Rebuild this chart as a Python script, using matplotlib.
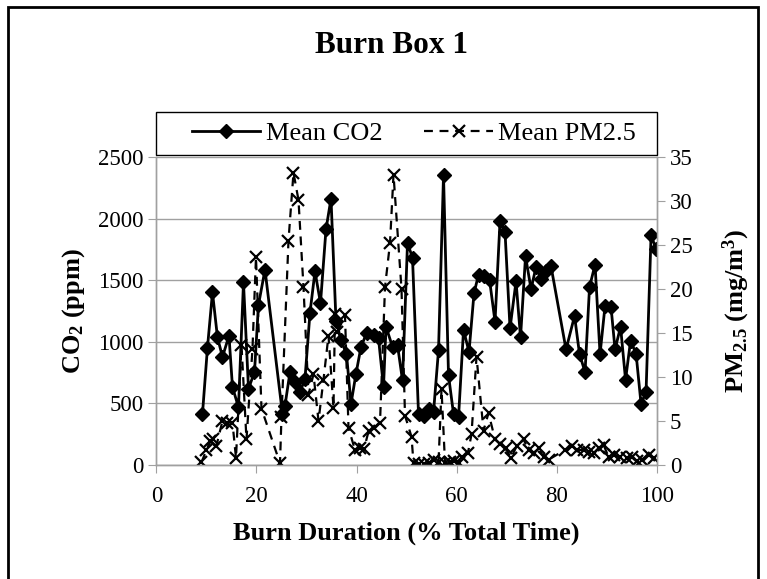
import matplotlib
matplotlib.use('Agg')
import matplotlib.pyplot as plt
from matplotlib.patches import Rectangle

plt.rcParams['font.family'] = ['Liberation Serif', 'DejaVu Serif']
plt.rcParams['mathtext.fontset'] = 'custom'
plt.rcParams['mathtext.rm'] = 'Liberation Serif'
plt.rcParams['mathtext.bf'] = 'Liberation Serif:bold'
plt.rcParams['mathtext.it'] = 'Liberation Serif:italic'

# Mean CO2 (ppm) vs burn duration (% of total time)
co2_time = [9.2, 10.2, 11.2, 12.2, 13.2, 14.5, 15.2, 16.4, 17.4, 18.4, 19.6, 20.4, 21.7,
            25.2, 25.7, 26.7, 27.7, 28.7, 29.7, 30.7, 31.7, 32.8, 33.9, 34.9, 35.9, 36.9,
            38.0, 38.9, 39.9, 40.9, 42.0, 43.4, 44.4, 45.4, 45.9, 47.2, 48.2, 49.2, 50.2,
            51.2, 52.4, 53.4, 54.4, 55.4, 56.4, 57.4, 58.4, 59.4, 60.4, 61.4, 62.5, 63.5,
            64.4, 65.5, 66.6, 67.7, 68.7, 69.7, 70.7, 71.9, 72.8, 73.8, 74.9, 75.9, 76.9,
            77.9, 78.9, 81.9, 83.6, 84.6, 85.7, 86.6, 87.7, 88.7, 89.7, 90.9, 91.7, 92.8,
            93.8, 94.8, 95.9, 96.9, 97.9, 98.9, 99.9]
co2_mean = [414, 953, 1400, 1035, 877, 1048, 632, 468, 1481, 618, 754, 1299, 1585,
            414, 482, 754, 672, 591, 700, 1236, 1571, 1313, 1912, 2162, 1171, 1013,
            899, 496, 741, 958, 1068, 1054, 1027, 632, 1122, 958, 972, 686, 1803,
            1680, 414, 400, 455, 427, 931, 2353, 727, 414, 386, 1095, 918, 1394,
            1544, 1530, 1503, 1163, 1980, 1890, 1109, 1490, 1035, 1694, 1427, 1607, 1509,
            1571, 1612, 937, 1209, 899, 754, 1444, 1626, 899, 1291, 1280, 937, 1122,
            692, 1007, 904, 496, 591, 1863, 1754]

# Mean PM2.5 (mg/m3)
pm_time = [9.0, 10.0, 10.8, 11.3, 12.0, 13.2, 14.2, 15.2, 15.9, 17.0, 18.0, 19.2, 19.9,
           21.0, 24.7, 25.0, 26.4, 27.4, 28.4, 29.4, 30.4, 31.4, 32.4, 33.4, 34.4, 35.4,
           35.7, 36.2, 37.7, 38.4, 39.7, 40.7, 41.5, 42.4, 43.4, 44.7, 45.7, 46.7, 47.4,
           49.0, 49.7, 51.0, 51.4, 52.4, 53.4, 54.4, 55.4, 56.4, 57.0, 57.7, 58.7, 59.4,
           60.4, 61.0, 62.3, 63.0, 64.0, 65.4, 66.4, 67.7, 68.7, 69.8, 70.9, 72.0, 73.4,
           74.4, 75.4, 76.4, 77.4, 78.4, 81.7, 83.0, 84.0, 85.4, 86.4, 87.4, 88.4, 89.4,
           90.4, 91.4, 92.7, 94.0, 95.0, 96.0, 97.0, 98.4, 99.4]
pm_mean = [0.3, 1.7, 2.7, 2.9, 2.2, 5.0, 4.8, 4.8, 0.8, 13.6, 2.9, 13.2, 23.6,
           6.4, 0.2, 5.5, 25.5, 33.2, 30.1, 20.2, 8.0, 10.3, 5.0, 9.7, 14.7, 6.5,
           17.2, 15.1, 17.0, 4.2, 1.7, 1.9, 1.8, 3.8, 4.2, 4.8, 20.2, 25.2, 33.0,
           20.0, 5.6, 3.2, 0.2, 0.1, 0.1, 0.2, 0.6, 0.3, 8.6, 0.2, 0.3, 0.5,
           0.2, 0.9, 1.4, 3.5, 12.3, 3.9, 5.9, 2.9, 2.4, 1.9, 0.8, 2.1, 2.9,
           1.7, 1.3, 1.9, 0.9, 0.6, 1.7, 2.1, 1.7, 1.7, 1.5, 1.3, 1.9, 2.3,
           0.9, 1.1, 0.9, 0.8, 0.9, 0.4, 0.6, 1.1, 0.8]

fig = plt.figure(figsize=(7.67, 5.79), dpi=100)
ax = fig.add_axes([0.204, 0.197, 0.652, 0.532])
ax2 = ax.twinx()

l1, = ax.plot(co2_time, co2_mean, color='black', lw=2, marker='D', ms=7,
              label='Mean CO2', zorder=3)
l2, = ax2.plot(pm_time, pm_mean, color='black', lw=1.6, ls=(0, (4, 3)), marker='x',
               ms=9, mew=1.6, label='Mean PM2.5')

ax.set_xlim(0, 100)
ax.set_ylim(0, 2500)
ax2.set_ylim(0, 35)
ax.set_xticks(range(0, 101, 20))
ax.set_yticks(range(0, 2501, 500))
ax2.set_yticks(range(0, 36, 5))

ax.yaxis.grid(True, color='#a0a0a0', lw=1)
ax.set_axisbelow(True)
for a in (ax, ax2):
    a.spines['top'].set_visible(False)
    for s in ('left', 'right', 'bottom'):
        a.spines[s].set_color('#a0a0a0')
        a.spines[s].set_linewidth(1)
    a.tick_params(length=6, color='#a0a0a0', labelsize=16.5)
ax.tick_params(axis='x', pad=9)

ax.set_xlabel('Burn Duration (% Total Time)', fontsize=19, fontweight='bold', labelpad=11)
ax.set_ylabel(r'CO$_\mathbf{2}$ (ppm)', fontsize=19, fontweight='bold', labelpad=8)
ax2.set_ylabel(r'PM$_\mathbf{2.5}$ (mg/m$^\mathbf{3}$)', fontsize=19, fontweight='bold',
               labelpad=20)

fig.text(0.511, 0.922, 'Burn Box 1', ha='center', va='center', fontsize=22.5,
         fontweight='bold')

# legend box spanning the plot width, entries packed at the left
fig.patches.append(Rectangle((0.204, 0.732), 0.652, 0.074, transform=fig.transFigure,
                             fill=False, lw=1, edgecolor='black'))
fig.legend(handles=[l1, l2], loc='center left', ncol=2, bbox_to_anchor=(0.25, 0.769),
           fontsize=19, frameon=False, borderaxespad=0, borderpad=0,
           handlelength=2.6, handletextpad=0.2, columnspacing=1.6)

fig.patches.append(Rectangle((8 / 767, -0.02), 750 / 767, 1 - 7 / 579 + 0.02,
                             transform=fig.transFigure, fill=False, lw=2,
                             edgecolor='black'))

fig.savefig('out.png', dpi=100)
